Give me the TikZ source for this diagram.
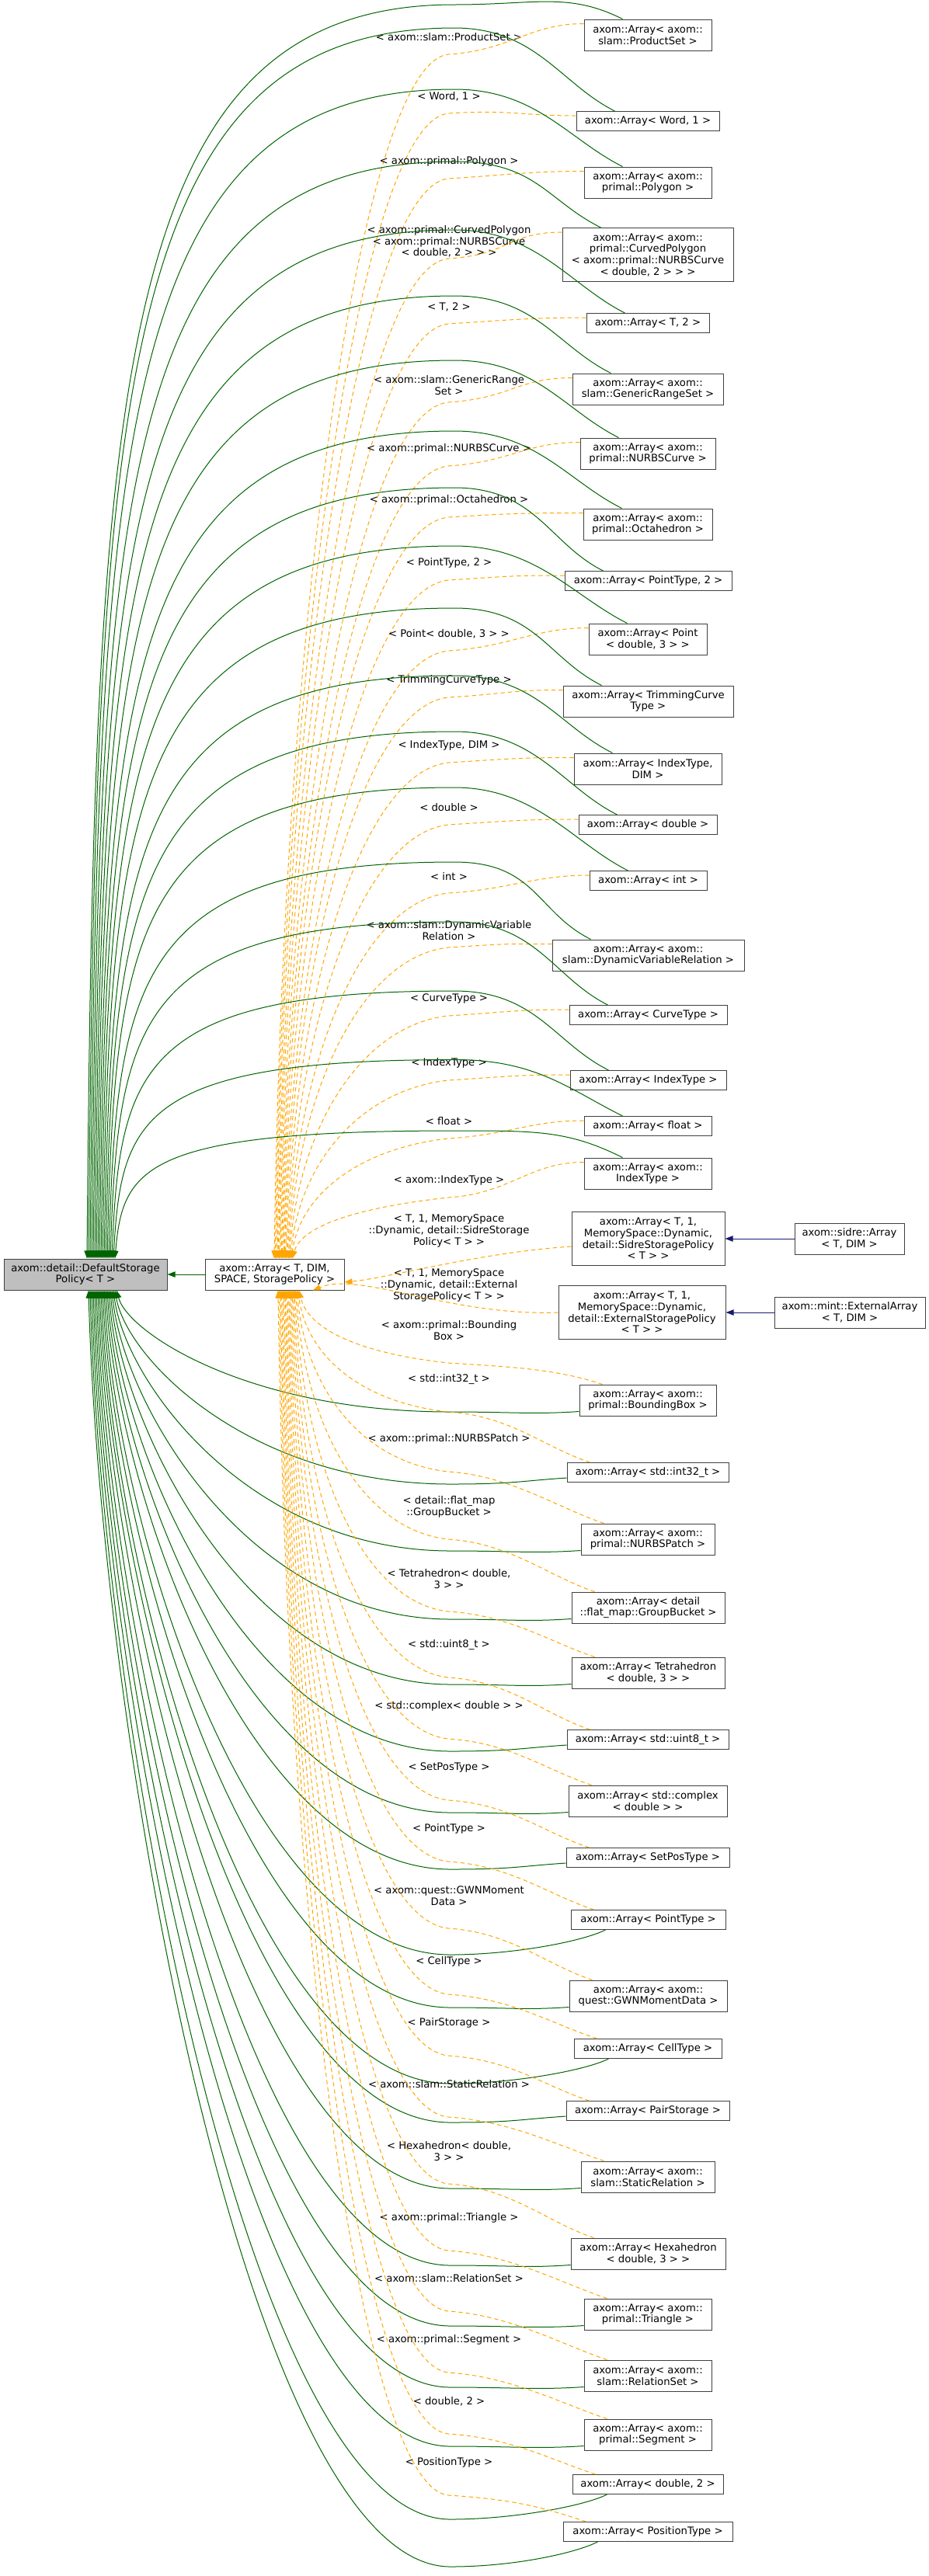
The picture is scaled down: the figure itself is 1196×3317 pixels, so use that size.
\documentclass[tikz,border=0pt]{standalone}
\usepackage{fontspec}
\setmainfont{DejaVu Sans}
\usetikzlibrary{arrows.meta,calc}
\definecolor{gcol}{HTML}{006400}
\definecolor{ocol}{HTML}{FFA500}
\definecolor{ncol}{HTML}{191970}
\tikzset{
 cls/.style={draw=black!75,line width=0.75pt,inner sep=0pt,align=center,font=\fontsize{9.9}{11}\selectfont},
 lbl/.style={inner sep=0pt,align=center,font=\fontsize{9.9}{11}\selectfont},
 tip/.style={-{Triangle[length=7.5pt,width=5.5pt]}},
 gedge/.style={draw=gcol,line width=0.75pt,tip,gcol},
 oedge/.style={draw=ocol,line width=0.75pt,dash pattern=on 4pt off 3pt,tip,ocol},
 nedge/.style={draw=ncol,line width=0.75pt,tip,ncol},
}
\newcommand\cls[6]{\node[cls,minimum width={(#3-#2)*0.75pt},minimum height={#5*0.75pt}] (#1) at ({(#2+#3)/2},#4) {#6};}
% upper edge: name, labely, label, tipG, tipO, yc
\newcommand\upE[6]{%
 \pgfmathsetmacro\My{#2+22}%
 \pgfmathsetmacro\Wy{max(6,#6-min(120,0.5*(1621-#6)))}%
 \node[lbl] (#1L) at (578,#2) {#3};
 \draw[oedge] ([yshift=-4.5pt]#1.north west) .. controls +(-70,0) and +(80,-5) .. (577,\My) .. controls +(-110,12) and +(12,{-0.55*(1621-\My)}) .. ([xshift={(#5-353.5)*0.75pt}]arr.north);
 \draw[gedge] ([xshift=37.5pt]#1.north west) .. controls +(-70,-35) and +(105,0) .. (585,\Wy) .. controls +({#4+35-585},0) and +(10,{-0.7*(1621-\Wy)}) .. ([xshift={(#4-110)*0.75pt}]left.north);
}
% lower edge: name, labely, label, tipG, tipO, yc, mode(0 west,1 bottom)
\newcommand\loE[7]{%
 \pgfmathsetmacro\My{#2+42}%
 \node[lbl] (#1L) at (578,#2) {#3};
 \draw[oedge] ([xshift=22.5pt]#1.north west) .. controls +(-60,-20) and +(80,5) .. (577,\My) .. controls +(-110,-12) and +(12,{0.55*(\My-1661)}) .. ([xshift={(#5-353.5)*0.75pt}]arr.south);
 \ifnum#7=0
  \pgfmathsetmacro\Wy{#6+15}%
  \draw[gedge] ([yshift=4.5pt]#1.south west) .. controls +(-60,4) and +(80,0) .. (580,\Wy) .. controls +(-260,0) and +(15,{0.35*(\Wy-1661)}) .. ([xshift={(#4-110)*0.75pt}]left.south);
 \else
  \pgfmathsetmacro\Wy{#6+45}%
  \draw[gedge] ([xshift=33.75pt]#1.south west) .. controls +(-30,15) and +(80,0) .. (580,\Wy) .. controls +(-260,0) and +(15,{0.35*(\Wy-1661)}) .. ([xshift={(#4-110)*0.75pt}]left.south);
 \fi
}
\begin{document}
\begin{tikzpicture}[x=0.75pt,y=-0.75pt]
\useasboundingbox (0,0) rectangle (1196,3317);
\node[cls,fill=black!25,minimum width={210*0.75pt},minimum height={40*0.75pt}] (left) at (110,1641) {axom::detail::DefaultStorage\\Policy< T >};
\cls{arr}{264}{443}{1641}{40}{axom::Array< T, DIM,\\SPACE, StoragePolicy >}
\draw[gedge] (arr.west) -- (left.east);
% upper nodes
\cls{ps}{752}{916}{45}{40}{axom::Array< axom::\\slam::ProductSet >}
\cls{w1}{742}{926}{156}{25}{axom::Array< Word, 1 >}
\cls{poly}{752}{916}{235}{40}{axom::Array< axom::\\primal::Polygon >}
\cls{cpoly}{724}{944}{328}{69}{axom::Array< axom::\\primal::CurvedPolygon\\< axom::primal::NURBSCurve\\< double, 2 > > >}
\cls{t2}{755}{913}{416}{25}{axom::Array< T, 2 >}
\cls{grs}{737}{931}{501}{40}{axom::Array< axom::\\slam::GenericRangeSet >}
\cls{nurbs}{747}{921}{584}{40}{axom::Array< axom::\\primal::NURBSCurve >}
\cls{octa}{751}{917}{675}{40}{axom::Array< axom::\\primal::Octahedron >}
\cls{pt2}{727}{942}{748}{25}{axom::Array< PointType, 2 >}
\cls{pd3}{758}{910}{823}{40}{axom::Array< Point\\< double, 3 > >}
\cls{trim}{725}{944}{903}{40}{axom::Array< TrimmingCurve\\Type >}
\cls{idim}{739}{929}{990}{40}{axom::Array< IndexType,\\DIM >}
\cls{dbl}{745}{923}{1062}{25}{axom::Array< double >}
\cls{int}{759}{910}{1134}{25}{axom::Array< int >}
\cls{dvr}{711}{958}{1230}{40}{axom::Array< axom::\\slam::DynamicVariableRelation >}
\cls{curve}{733}{936}{1307}{25}{axom::Array< CurveType >}
\cls{idx}{734}{935}{1391}{25}{axom::Array< IndexType >}
\cls{flt}{752}{916}{1450}{25}{axom::Array< float >}
\cls{aidx}{752}{916}{1511}{40}{axom::Array< axom::\\IndexType >}
\cls{sidre}{736}{933}{1595}{69}{axom::Array< T, 1,\\MemorySpace::Dynamic,\\detail::SidreStoragePolicy\\< T > >}
\cls{ext}{719}{934}{1690}{69}{axom::Array< T, 1,\\MemorySpace::Dynamic,\\detail::ExternalStoragePolicy\\< T > >}
\cls{sidreArr}{1023}{1164}{1595}{40}{axom::sidre::Array\\< T, DIM >}
\cls{extArr}{997}{1191}{1690}{40}{axom::mint::ExternalArray\\< T, DIM >}
% lower nodes
\cls{bbox}{746}{922}{1803}{40}{axom::Array< axom::\\primal::BoundingBox >}
\cls{i32}{730}{938}{1896}{25}{axom::Array< std::int32\_t >}
\cls{patch}{748}{920}{1982}{40}{axom::Array< axom::\\primal::NURBSPatch >}
\cls{gb}{736}{933}{2070}{40}{axom::Array< detail\\::flat\_map::GroupBucket >}
\cls{tet}{736}{933}{2154}{40}{axom::Array< Tetrahedron\\< double, 3 > >}
\cls{u8}{730}{938}{2240}{25}{axom::Array< std::uint8\_t >}
\cls{cplx}{732}{936}{2319}{40}{axom::Array< std::complex\\< double > >}
\cls{spt}{729}{939}{2392}{25}{axom::Array< SetPosType >}
\cls{ptt}{735}{934}{2472}{25}{axom::Array< PointType >}
\cls{gwn}{733}{936}{2570}{40}{axom::Array< axom::\\quest::GWNMomentData >}
\cls{cell}{739}{929}{2638}{25}{axom::Array< CellType >}
\cls{pair}{729}{939}{2718}{25}{axom::Array< PairStorage >}
\cls{srel}{748}{920}{2803}{40}{axom::Array< axom::\\slam::StaticRelation >}
\cls{hex}{735}{934}{2902}{40}{axom::Array< Hexahedron\\< double, 3 > >}
\cls{tri}{752}{916}{2980}{40}{axom::Array< axom::\\primal::Triangle >}
\cls{rset}{752}{916}{3059}{40}{axom::Array< axom::\\slam::RelationSet >}
\cls{seg}{752}{916}{3135}{40}{axom::Array< axom::\\primal::Segment >}
\cls{d2}{737}{931}{3199}{25}{axom::Array< double, 2 >}
\cls{pos}{725}{943}{3260}{25}{axom::Array< PositionType >}
% upper edges
\upE{ps}{48}{< axom::slam::ProductSet >}{112}{353}{45}
\upE{w1}{124}{< Word, 1 >}{114}{354.3}{156}
\upE{poly}{208}{< axom::primal::Polygon >}{116}{355.6}{235}
\upE{cpoly}{311}{< axom::primal::CurvedPolygon\\< axom::primal::NURBSCurve\\< double, 2 > > >}{118}{356.9}{328}
\upE{t2}{395}{< T, 2 >}{120}{358.2}{416}
\upE{grs}{496}{< axom::slam::GenericRange\\Set >}{122}{359.5}{501}
\upE{nurbs}{578}{< axom::primal::NURBSCurve >}{124}{360.8}{584}
\upE{octa}{644}{< axom::primal::Octahedron >}{126}{362.1}{675}
\upE{pt2}{725}{< PointType, 2 >}{128}{363.4}{748}
\upE{pd3}{816}{< Point< double, 3 > >}{130}{364.7}{823}
\upE{trim}{876}{< TrimmingCurveType >}{132}{366}{903}
\upE{idim}{960}{< IndexType, DIM >}{134}{367.3}{990}
\upE{dbl}{1040}{< double >}{136}{368.6}{1062}
\upE{int}{1128}{< int >}{138}{369.9}{1134}
\upE{dvr}{1198}{< axom::slam::DynamicVariable\\Relation >}{140}{371.2}{1230}
\upE{curve}{1286}{< CurveType >}{142}{372.5}{1307}
\upE{idx}{1369}{< IndexType >}{144}{373.8}{1391}
\upE{flt}{1444}{< float >}{146}{375.1}{1450}
\upE{aidx}{1520}{< axom::IndexType >}{148}{376.4}{1511}
% sidre / external
\node[lbl] (sidreL) at (578,1585) {< T, 1, MemorySpace\\::Dynamic, detail::SidreStorage\\Policy< T > >};
\node[lbl] (extL) at (578,1655) {< T, 1, MemorySpace\\::Dynamic, detail::External\\StoragePolicy< T > >};
\draw[oedge] ([yshift=-7.5pt]sidre.west) .. controls +(-120,8) and +(60,-6) .. ([yshift=-7.5pt]arr.east);
\draw[oedge] (ext.west) .. controls +(-140,5) and +(60,-25) .. ([xshift=37pt]arr.south);
\draw[nedge] (sidreArr.west) -- (sidre.east);
\draw[nedge] (extArr.west) -- (ext.east);
% lower edges
\loE{bbox}{1713}{< axom::primal::Bounding\\Box >}{150}{385}{1803}{0}
\loE{i32}{1776}{< std::int32\_t >}{148}{383.5}{1896}{0}
\loE{patch}{1853}{< axom::primal::NURBSPatch >}{146}{382}{1982}{0}
\loE{gb}{1940}{< detail::flat\_map\\::GroupBucket >}{144}{380.5}{2070}{0}
\loE{tet}{2033}{< Tetrahedron< double,\\3 > >}{142}{379}{2154}{0}
\loE{u8}{2118}{< std::uint8\_t >}{140}{377.5}{2240}{0}
\loE{cplx}{2197}{< std::complex< double > >}{138}{376}{2319}{0}
\loE{spt}{2276}{< SetPosType >}{136}{374.5}{2392}{0}
\loE{ptt}{2355}{< PointType >}{134}{373}{2472}{1}
\loE{gwn}{2441}{< axom::quest::GWNMoment\\Data >}{132}{371.5}{2570}{0}
\loE{cell}{2526}{< CellType >}{130}{370}{2638}{1}
\loE{pair}{2605}{< PairStorage >}{128}{368.5}{2718}{0}
\loE{srel}{2684}{< axom::slam::StaticRelation >}{126}{367}{2803}{0}
\loE{hex}{2770}{< Hexahedron< double,\\3 > >}{124}{365.5}{2902}{0}
\loE{tri}{2856}{< axom::primal::Triangle >}{122}{364}{2980}{0}
\loE{rset}{2934}{< axom::slam::RelationSet >}{120}{362.5}{3059}{0}
\loE{seg}{3013}{< axom::primal::Segment >}{118}{361}{3135}{0}
\loE{d2}{3092}{< double, 2 >}{116}{359.5}{3199}{1}
\loE{pos}{3171}{< PositionType >}{114}{358}{3260}{1}
\end{tikzpicture}
\end{document}
